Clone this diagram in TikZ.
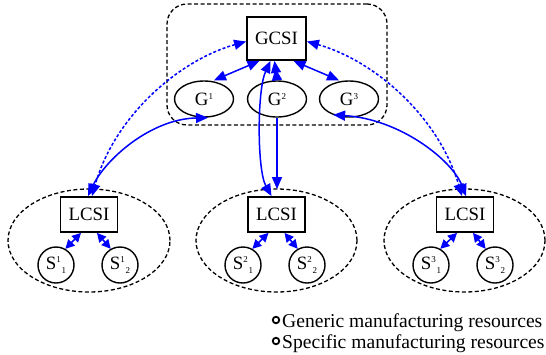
\documentclass[tikz,border=0pt]{standalone}
\usepackage{fontspec}
\setmainfont{Liberation Serif}
\usetikzlibrary{arrows.meta,shapes.geometric}
\newcommand\labfont{\fontsize{18.8}{20}\selectfont}
\newcommand\idxfont{\fontsize{9}{9}\selectfont}
\newcommand\glab[1]{G\raisebox{6pt}{\idxfont #1}}
\newcommand\slab[2]{S\raisebox{7pt}{\idxfont #1}\hspace{0.6pt}\raisebox{-3.5pt}{\idxfont #2}}
\tikzset{
  box/.style={draw, line width=1.8pt, minimum width=57pt, minimum height=35pt, inner sep=0pt, font=\labfont},
  gnode/.style={draw, ellipse, line width=1.4pt, minimum width=59pt, minimum height=36pt, inner sep=0pt, font=\labfont},
  snode/.style={draw, circle, line width=1.4pt, minimum size=36pt, inner sep=0pt, font=\labfont},
  group/.style={draw, line width=1.3pt, dash pattern=on 4pt off 2.5pt},
  link/.style={draw=blue, line width=1.5pt, {Triangle[length=12pt,width=10pt]}-{Triangle[length=12pt,width=10pt]}},
  slink/.style={draw=blue, line width=1.5pt, {Triangle[length=9pt,width=9pt]}-{Triangle[length=9pt,width=9pt]}},
  onelink/.style={draw=blue, line width=1.5pt, -{Triangle[length=12pt,width=10pt]}},
  dlink/.style={link, dash pattern=on 3pt off 2pt},
  legtext/.style={anchor=base west, inner sep=0pt, font=\fontsize{19.6}{20}\selectfont},
  legmark/.style={draw, circle, line width=1.8pt, minimum size=6.5pt, inner sep=0pt},
}
\begin{document}
\begin{tikzpicture}[x=1pt,y=-1pt]
\useasboundingbox (0,0) rectangle (546,354);
% containers
\node[group, rounded corners=20pt, minimum width=220pt, minimum height=121pt] (top) at (277,64.5) {};
\node[group, ellipse, minimum width=162pt, minimum height=103pt] (e1) at (89,240.5) {};
\node[group, ellipse, minimum width=161pt, minimum height=103pt] (e2) at (276.5,240.5) {};
\node[group, ellipse, minimum width=161pt, minimum height=103pt] (e3) at (464.5,240.5) {};
% nodes
\node[box, minimum width=59pt, minimum height=43pt] (gcsi) at (276.5,38.5) {GCSI};
\node[gnode] (g1) at (204,99) {\glab{1}};
\node[gnode] (g2) at (277,99) {\glab{2}};
\node[gnode] (g3) at (349,99) {\glab{3}};
\node[box] (l1) at (89,214.5) {LCSI};
\node[box] (l2) at (276.5,214.5) {LCSI};
\node[box] (l3) at (465,214.5) {LCSI};
\node[snode] (s11) at (56,265) {\slab{1}{1}};
\node[snode] (s12) at (120,265) {\slab{1}{2}};
\node[snode] (s21) at (243,265) {\slab{2}{1}};
\node[snode] (s22) at (307,265) {\slab{2}{2}};
\node[snode] (s31) at (431,265) {\slab{3}{1}};
\node[snode] (s32) at (495,265) {\slab{3}{2}};
% GCSI to G
\draw[link] ([xshift=-17pt]gcsi.south) -- ([xshift=10pt]g1.north);
\draw[link] ([xshift=17pt]gcsi.south) -- ([xshift=-10pt]g3.north);
\draw[draw=blue, line width=1.5pt, {Triangle[length=12pt,width=10pt,reversed]}-{Triangle[length=12pt,width=10pt]}] (g2.north) -- ([xshift=-2pt]gcsi.south);
% GCSI / G to LCSI
\draw[dlink] ([yshift=-3pt]gcsi.west) .. controls (180,60) and (115,115) .. ([xshift=3pt]l1.north);
\draw[link] ([xshift=4pt]g1.south) .. controls (150,119) and (105,160) .. ([xshift=-1pt]l1.north);
\draw[dlink] ([yshift=-3pt]gcsi.east) .. controls (373,60) and (438,115) .. ([xshift=-3pt]l3.north);
\draw[link] (g3.225) .. controls (400,119) and (452,160) .. ([xshift=1pt]l3.north);
\draw[link] ([xshift=-6pt]gcsi.south) .. controls (257,90) and (257,170) .. ([xshift=-5pt]l2.north);
\draw[onelink] (g2.south) -- ([xshift=0.5pt,yshift=7pt]l2.north);
% LCSI to S
\draw[slink] ([xshift=-8pt]l1.south) -- (s11.60);
\draw[slink] ([xshift=8pt]l1.south) -- (s12.120);
\draw[slink] ([xshift=-8pt]l2.south) -- (s21.60);
\draw[slink] ([xshift=8pt]l2.south) -- (s22.120);
\draw[slink] ([xshift=-8pt]l3.south) -- (s31.60);
\draw[slink] ([xshift=8pt]l3.south) -- (s32.120);
% legend
\node[legmark] (c1) at (276,320) {};
\node[legmark] (c2) at (276,341) {};
\node[legtext] (t1) at (282,327) {Generic manufacturing resources};
\node[legtext] (t2) at (282,348) {Specific manufacturing resources};
\end{tikzpicture}
\end{document}
